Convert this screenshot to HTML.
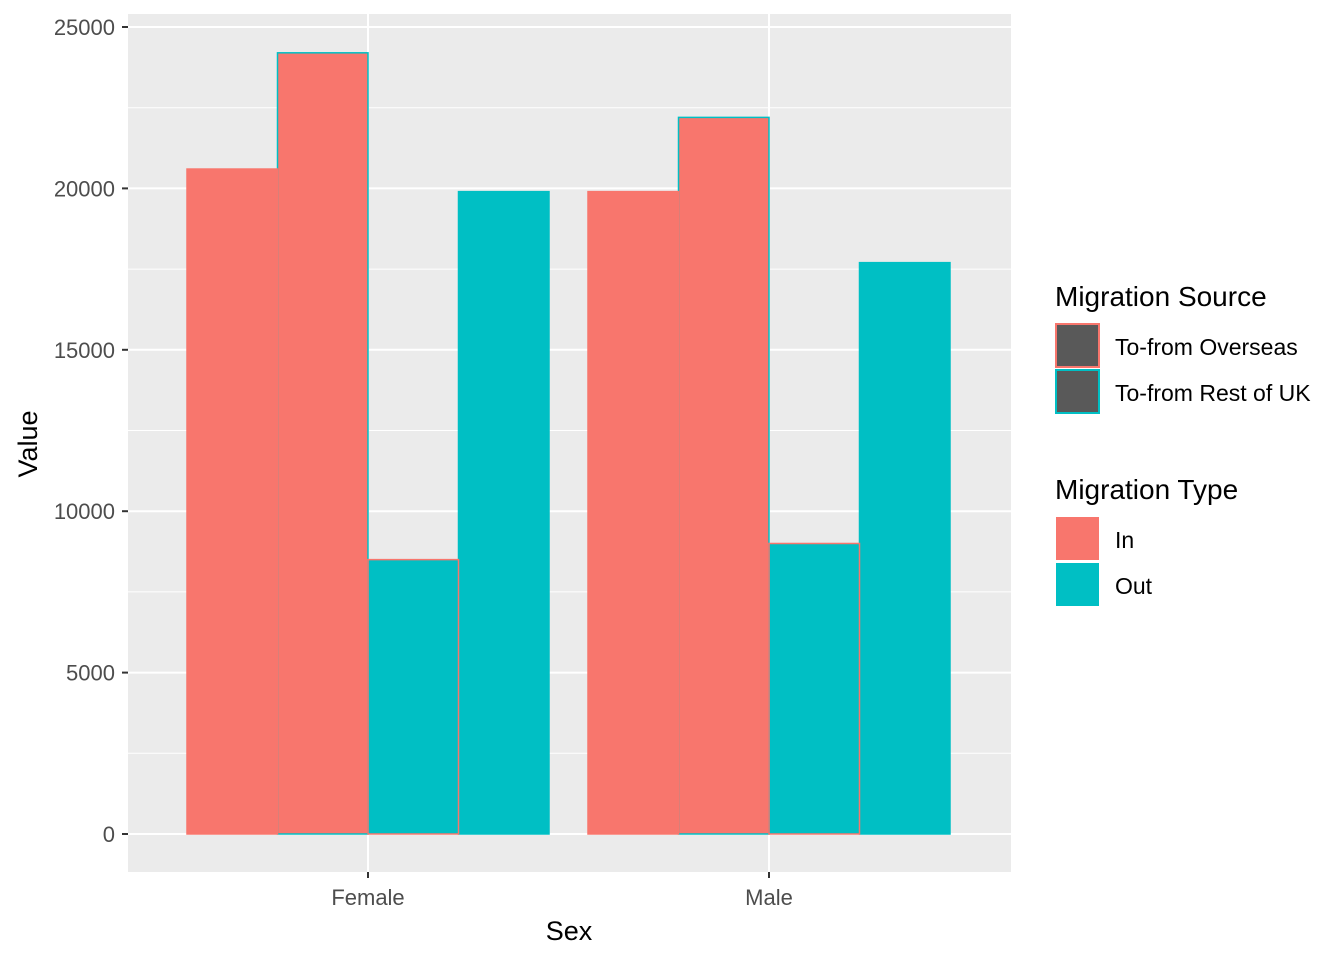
<!DOCTYPE html>
<html><head><meta charset="utf-8">
<style>
body{margin:0;background:#fff;}
svg text{font-family:"Liberation Sans",Arial,sans-serif;}
</style></head>
<body>
<svg id="chart" width="1344" height="960" xmlns="http://www.w3.org/2000/svg">
<rect x="128" y="14" width="883" height="858" fill="#EBEBEB"/>
<g id="grid"></g>
<g id="bars"></g>
<g id="axes"></g>
<text x="569" y="940" font-size="27" text-anchor="middle" fill="#000">Sex</text>
<text transform="translate(37,444) rotate(-90)" font-size="27" text-anchor="middle" fill="#000">Value</text>
<g>
<text x="1055" y="306" font-size="28" fill="#000">Migration Source</text>
<rect x="1056" y="324" width="43" height="43" fill="#595959" stroke="#F8766D" stroke-width="2"/>
<text x="1115" y="355" font-size="23" fill="#000">To-from Overseas</text>
<rect x="1056" y="370" width="43" height="43" fill="#595959" stroke="#00BFC4" stroke-width="2"/>
<text x="1115" y="401" font-size="23" fill="#000">To-from Rest of UK</text>
</g>
<g>
<text x="1055" y="499" font-size="28" fill="#000">Migration Type</text>
<rect x="1056" y="517" width="43" height="43" fill="#F8766D"/>
<text x="1115" y="548" font-size="23" fill="#000">In</text>
<rect x="1056" y="563" width="43" height="43" fill="#00BFC4"/>
<text x="1115" y="594" font-size="23" fill="#000">Out</text>
</g>
</svg>
<script>
const categories = ["Female","Male"];
const inOverseas = [20600, 19900];
const inRestUK = [24200, 22200];
const outOverseas = [8500, 9000];
const outRestUK = [19900, 17700];
const yTicks = [0,5000,10000,15000,20000,25000];
const yMinor = [2500,7500,12500,17500,22500];

const NS="http://www.w3.org/2000/svg";
const y0=834, y1=27, yMax=25000;
function ys(v){return y0-(v/yMax)*(y0-y1);}
const catX=[368,769];
function xc(i){return catX[i];}
const bw=90.5;
function mk(tag,attrs,parent){const e=document.createElementNS(NS,tag);for(const k in attrs)e.setAttribute(k,attrs[k]);parent.appendChild(e);return e;}
const grid=document.getElementById('grid'),bars=document.getElementById('bars'),axes=document.getElementById('axes');
yMinor.forEach(v=>{const l=mk('line',{x1:128,x2:1011,y1:ys(v),y2:ys(v),stroke:'#fff','stroke-width':1},grid);

});
yTicks.forEach(v=>{const l=mk('line',{x1:128,x2:1011,y1:ys(v),y2:ys(v),stroke:'#fff','stroke-width':2},grid);


const t=mk('line',{x1:122,x2:128,y1:ys(v),y2:ys(v),stroke:'#333','stroke-width':2},axes);


const tx=mk('text',{x:115,y:ys(v)+8,'font-size':22,'text-anchor':'end',fill:'#4D4D4D'},axes);tx.textContent=v;

});
categories.forEach((c,i)=>{const l=mk('line',{x1:xc(i),x2:xc(i),y1:14,y2:872,stroke:'#fff','stroke-width':2},grid);


const t=mk('line',{x1:xc(i),x2:xc(i),y1:872,y2:878,stroke:'#333','stroke-width':2},axes);


const tx=mk('text',{x:xc(i),y:905,'font-size':22,'text-anchor':'middle',fill:'#4D4D4D'},axes);tx.textContent=c;

});
// [values, fill, stroke, name, slot] — drawn Rest-of-UK first, Overseas on top
const series=[[inRestUK,'#F8766D','#00BFC4','in-rest-of-uk',1],[outRestUK,'#00BFC4','#00BFC4','out-rest-of-uk',3],[inOverseas,'#F8766D','#F8766D','in-overseas',0],[outOverseas,'#00BFC4','#F8766D','out-overseas',2]];
categories.forEach((c,i)=>{series.forEach(s=>{const x=xc(i)-2*bw+s[4]*bw;const v=s[0][i];
const r=mk('rect',{x:x,y:ys(v),width:bw,height:y0-ys(v),fill:s[1],stroke:s[2],'stroke-width':1.5},bars);

});});
</script>
</body></html>
